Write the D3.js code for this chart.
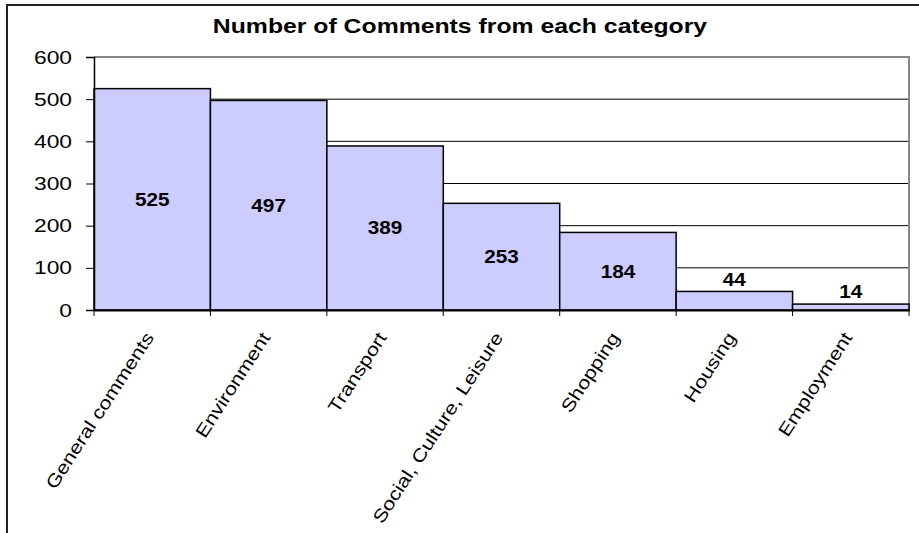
<!DOCTYPE html>
<html>
<head>
<meta charset="utf-8">
<script src="https://cdn.jsdelivr.net/npm/d3@7"></script>
<style>
  body { margin: 0; background: #fff; }
  text { font-family: "Liberation Sans", Arial, sans-serif; fill: #000; }
</style>
</head>
<body>
<div id="chart"></div>
<script>
var svgWidth = 919;
var svgHeight = 533;

// chart data
var categories = ["General comments", "Environment", "Transport", "Social, Culture, Leisure",
  "Shopping", "Housing", "Employment"];
var counts = [525, 497, 389, 253, 184, 44, 14];
var yTicks = [0, 100, 200, 300, 400, 500, 600];
var chartTitle = "Number of Comments from each category";

var margin = { top: 57, right: 10, bottom: 223, left: 94 };
var width = svgWidth - margin.left - margin.right;
var height = svgHeight - margin.top - margin.bottom;

// the original picture is stretched sideways, so widen text to suit
function stretch(sel, factor) {
  sel.each(function() {
    var len = this.getComputedTextLength();
    d3.select(this)
      .attr("textLength", len * factor)
      .attr("lengthAdjust", "spacingAndGlyphs");
  });
}

var svg = d3.select("#chart")
  .append("svg")
  .attr("width", svgWidth)
  .attr("height", svgHeight);

// outer chart border (runs off the right and bottom of the picture)
svg.append("rect")
  .attr("x", 7)
  .attr("y", 5)
  .attr("width", svgWidth + 20)
  .attr("height", svgHeight + 20)
  .attr("fill", "#fff")
  .attr("stroke", "#222")
  .attr("stroke-width", 2);

svg.append("text")
  .attr("x", 460)
  .attr("y", 33)
  .attr("text-anchor", "middle")
  .style("font-size", "21px")
  .style("font-weight", "bold")
  .text(chartTitle)
  .call(stretch, 1.18);

var chartGroup = svg.append("g")
  .attr("transform", `translate(${margin.left}, ${margin.top})`);

var xScale = d3.scaleBand()
  .domain(categories)
  .range([0, width])
  .padding(0);

var yScale = d3.scaleLinear()
  .domain([0, 600])
  .range([height, 0]);

// gridlines
chartGroup.append("g")
  .selectAll("line")
  .data(yTicks.filter(d => d > 0 && d < 600))
  .enter()
  .append("line")
  .attr("x1", 0)
  .attr("x2", width)
  .attr("y1", d => yScale(d))
  .attr("y2", d => yScale(d))
  .attr("stroke", "#000")
  .attr("stroke-width", 1);

// plot area border, gray top and right
chartGroup.append("path")
  .attr("d", `M0,${yScale(600)}H${width}V${height}`)
  .attr("fill", "none")
  .attr("stroke", "#888")
  .attr("stroke-width", 2);

// bars
chartGroup.selectAll(".bar")
  .data(counts)
  .enter()
  .append("rect")
  .classed("bar", true)
  .attr("x", (d, i) => xScale(categories[i]))
  .attr("y", d => yScale(d))
  .attr("width", xScale.bandwidth())
  .attr("height", d => height - yScale(d))
  .attr("fill", "#ccccff")
  .attr("stroke", "#000")
  .attr("stroke-width", 1.5);

// value labels: centred in tall bars, above short ones
chartGroup.selectAll(".val")
  .data(counts)
  .enter()
  .append("text")
  .classed("val", true)
  .attr("x", (d, i) => xScale(categories[i]) + xScale.bandwidth() / 2)
  .attr("y", function(d) {
    var top = yScale(d);
    if (height - top > 40) return (top + height) / 2;
    return top - 12;
  })
  .attr("dy", "0.35em")
  .attr("text-anchor", "middle")
  .style("font-size", "18px")
  .style("font-weight", "bold")
  .text(d => d)
  .call(stretch, 1.15);

// y axis
var leftAxis = d3.axisLeft(yScale)
  .tickValues(yTicks)
  .tickSize(8)
  .tickPadding(14);

var yAxis = chartGroup.append("g").call(leftAxis);
yAxis.select(".domain").attr("stroke", "#000").attr("stroke-width", 1.5);
yAxis.selectAll(".tick line").attr("stroke", "#000");
yAxis.selectAll("text")
  .style("font-size", "19px")
  .style("font-family", "'Liberation Sans', Arial, sans-serif")
  .attr("fill", "#000")
  .call(stretch, 1.2);

// x axis
var bottomAxis = d3.axisBottom(xScale).tickSize(0).tickFormat("");
var xAxis = chartGroup.append("g")
  .attr("transform", `translate(0, ${height})`)
  .call(bottomAxis);
xAxis.select(".domain").attr("stroke", "#000").attr("stroke-width", 2);

// ticks sit on the bar edges
chartGroup.append("g")
  .selectAll("line")
  .data(categories.concat(["end"]))
  .enter()
  .append("line")
  .attr("x1", (d, i) => i * xScale.bandwidth())
  .attr("x2", (d, i) => i * xScale.bandwidth())
  .attr("y1", height)
  .attr("y2", height + 6)
  .attr("stroke", "#000");

// rotated category labels
chartGroup.append("g")
  .selectAll("text")
  .data(categories)
  .enter()
  .append("text")
  .attr("transform", d => `translate(${xScale(d) + xScale.bandwidth() / 2 - 3}, ${height + 24}) rotate(-57)`)
  .attr("text-anchor", "end")
  .attr("dy", "0.35em")
  .style("font-size", "18px")
  .text(d => d)
  .call(stretch, 1.2);
</script>
</body>
</html>
